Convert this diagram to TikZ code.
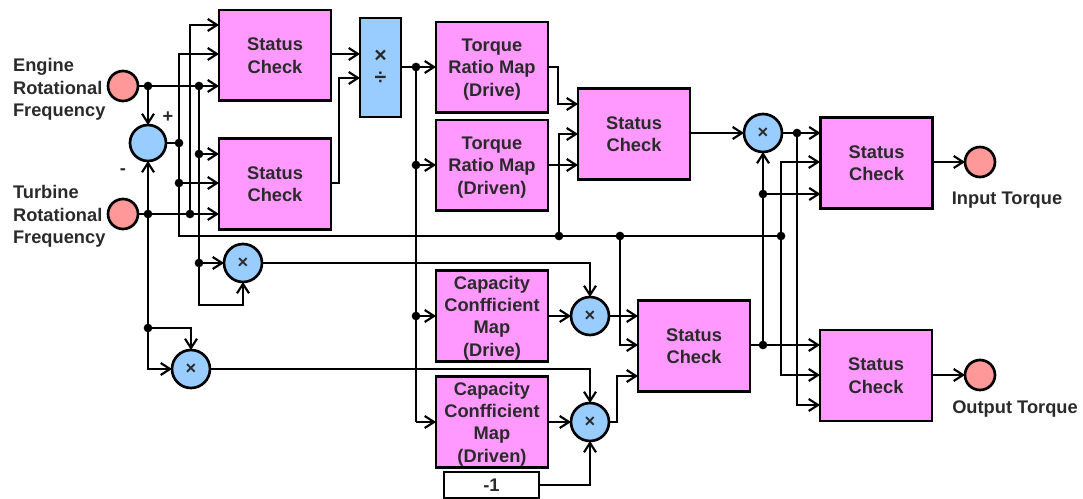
\documentclass[tikz,border=0pt]{standalone}
\usepackage{fontspec}
\setmainfont{Liberation Sans}
\usetikzlibrary{arrows.meta}
\definecolor{boxfill}{HTML}{FF99FF}
\definecolor{opfill}{HTML}{99CCFF}
\definecolor{portfill}{HTML}{FF9999}
\definecolor{inktext}{HTML}{2A2A2A}
\tikzset{
  txt/.style={font=\fontsize{13.7}{16.8}\selectfont\bfseries,text=inktext,align=center,inner sep=0pt,text depth=0pt},
  block/.style={shape=rectangle,draw,line width=2pt,fill=boxfill,minimum width=84pt,minimum height=68pt,inner sep=0pt,outer sep=0pt,txt},
  op/.style={shape=circle,draw,line width=2pt,fill=opfill,minimum size=28.5pt,inner sep=0pt,outer sep=0pt,txt},
  port/.style={shape=circle,draw,line width=2pt,fill=portfill,minimum size=22.5pt,inner sep=0pt,outer sep=0pt},
  joint/.style={shape=circle,fill=black,minimum size=6.5pt,inner sep=0pt,outer sep=0pt},
}
\begin{document}
\begin{tikzpicture}[x=0.75pt,y=-0.75pt,line width=1.6pt,>={Straight Barb[length=7pt,width=9pt]}]
\useasboundingbox (0,0) rectangle (1083,499);
\node (engine)  at (123,86)  [port] {};
\node (turbine) at (123,214) [port] {};
\node (intq)    at (980,162) [port] {};
\node (outq)    at (980,375) [port] {};
\node (englbl)  at (12,87.5)   [txt,anchor=west,align=left] {Engine\\Rotational\\Frequency};
\node (turlbl)  at (12,214.5)  [txt,anchor=west,align=left] {Turbine\\Rotational\\Frequency};
\node (intlbl)  at (1007,198) [txt] {Input Torque};
\node (outlbl)  at (1015,407) [txt] {Output Torque};
\node (plus)    at (168,117) [txt] {+};
\node (minus)   at (123,172) [txt] {-};
\node (diff)  at (148,143)   [op,minimum size=27pt] {};
\node (mula)  at (763,133)   [op] {×};
\node (mulb)  at (243,263)   [op] {×};
\node (mulc)  at (191,369)   [op] {×};
\node (muld)  at (590,316)   [op] {×};
\node (mule)  at (590,422)   [op] {×};
\node (st1) at (275,55.5)    [block] {Status\\Check};
\node (st2) at (275,184) [block] {Status\\Check};
\node (st3) at (634,134) [block] {Status\\Check};
\node (st4) at (876.5,163) [block] {Status\\Check};
\node (st5) at (876,375.5)   [block] {Status\\Check};
\node (st6) at (694,346) [block] {Status\\Check};
\node (divbox) at (380.5,67.5) [block,fill=opfill,minimum width=30.75pt,minimum height=74.25pt,font=\fontsize{16}{16.8}\selectfont\bfseries] {×\\÷};
\node (tq1)  at (492,67.5)  [block] {Torque\\Ratio Map\\(Drive)};
\node (tq2)  at (492,165.5) [block] {Torque\\Ratio Map\\(Driven)};
\node (cap1) at (492,316)   [block] {Capacity\\Confficient\\Map\\(Drive)};
\node (cap2) at (492,422)   [block] {Capacity\\Confficient\\Map\\(Driven)};
\node (unit) at (491.5,485) [block,fill=white,line width=1.25pt,minimum width=71pt,minimum height=19.5pt] {-1};
\node (d1)  at (148,86)  [joint] {};
\node (d2)  at (199,86)  [joint] {};
\node (d3)  at (179,143) [joint] {};
\node (d4)  at (199,154) [joint] {};
\node (d5)  at (179,183) [joint] {};
\node (d6)  at (148,214) [joint] {};
\node (d7)  at (190,214) [joint] {};
\node (d8)  at (199,263) [joint] {};
\node (d9)  at (148,328) [joint] {};
\node (d10) at (416,67)  [joint] {};
\node (d11) at (416,165) [joint] {};
\node (d12) at (416,316) [joint] {};
\node (d13) at (559,236) [joint] {};
\node (d14) at (620,236) [joint] {};
\node (d15) at (781,236) [joint] {};
\node (d16) at (797,133) [joint] {};
\node (d17) at (763,194) [joint] {};
\node (d18) at (763,345) [joint] {};
\coordinate (st1a) at (219,25);
\coordinate (st1b) at (219,54);
\coordinate (st2a) at (219,154);
\coordinate (st2b) at (219,183);
\coordinate (diva) at (360,54);
\coordinate (divb) at (360,78);
\coordinate (st3a) at (578,104);
\coordinate (st3b) at (578,134);
\coordinate (st4b) at (820,162);
\coordinate (st5b) at (820,375);
\coordinate (st5c) at (820,405);
\coordinate (st6b) at (638,345);
\coordinate (st6c) at (638,376);
\coordinate (c1) at (199,305);
\coordinate (c2) at (339,183);
\coordinate (c3) at (416,422);
\coordinate (c4) at (558,67);
\coordinate (c5) at (617,422);
\draw (engine) -- (d1) -- (d2);
\draw [->] (d2) -- (d2 -| st1.west);
\draw [->] (d1) -- (diff);
\draw (diff) -- (d3);
\draw [->] (d3) |- (st1b);
\draw (d3) -- (d5) |- (d13) -- (d14) -- (d15);
\draw [->] (d5) -- (st2b);
\draw (turbine) -- (d6) -- (d7);
\draw [->] (d7) -- (d7 -| st2.west);
\draw [->] (d7) |- (st1a);
\draw (d2) -- (d4) -- (d8);
\draw [->] (d4) -- (st2a);
\draw [->] (d8) -- (mulb);
\draw [->] (d8) -- (c1) -| (mulb);
\draw [->] (d6) -- (diff);
\draw (d6) -- (d9);
\draw [->] (d9) |- (mulc);
\draw [->] (d9) -| (mulc);
\draw [->] (mulb) -| (muld);
\draw [->] (mulc) -| (mule);
\draw [->] (unit) -| (mule);
\draw [->] (st1.east |- diva) -- (diva);
\draw [->] (st2.east |- c2) -- (c2) |- (divb);
\draw (divbox.east |- d10) -- (d10);
\draw [->] (d10) -- (d10 -| tq1.west);
\draw (d10) -- (d11) -- (d12) -- (c3);
\draw [->] (d11) -- (d11 -| tq2.west);
\draw [->] (d12) -- (cap1);
\draw [->] (c3) -- (cap2);
\draw [->] (tq1.east |- c4) -- (c4) |- (st3a);
\draw [->] (d13) |- (st3b);
\draw [->] (d11 -| tq2.east) -- (d11 -| st3.west);
\draw [->] (st3.east |- mula) -- (mula);
\draw (mula) -- (d16);
\draw [->] (d16) -- (d16 -| st4.west);
\draw [->] (d16) |- (st5c);
\draw [->] (d15) |- (st4b);
\draw [->] (d15) |- (st5b);
\draw (st6.east |- d18) -- (d18);
\draw [->] (d18) -- (d18 -| st5.west);
\draw (d18) -- (d17);
\draw [->] (d17) -- (mula);
\draw [->] (d17) -- (d17 -| st4.west);
\draw [->] (d14) |- (st6b);
\draw [->] (cap1) -- (muld);
\draw [->] (cap2) -- (mule);
\draw [->] (muld) -- (muld -| st6.west);
\draw [->] (mule) -- (c5) |- (st6c);
\draw [->] (st4.east |- intq) -- (intq);
\draw [->] (st5.east |- outq) -- (outq);
\end{tikzpicture}
\end{document}
